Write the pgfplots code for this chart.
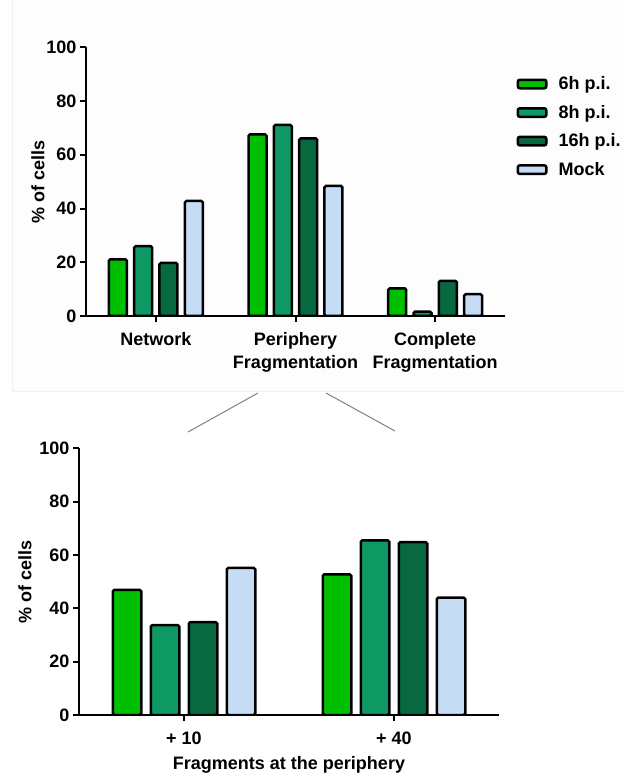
\documentclass[border=0pt]{standalone}
\usepackage{fontspec}
\setmainfont{Liberation Sans}
\usepackage{pgfplots}
\pgfplotsset{compat=1.18}
\definecolor{cA}{RGB}{0,190,0}
\definecolor{cB}{RGB}{14,152,100}
\definecolor{cC}{RGB}{8,104,64}
\definecolor{cD}{RGB}{198,220,245}
\newcommand{\ff}{\bfseries\fontsize{18}{23}\selectfont}
\pgfplotsset{
  myleg/.style={legend image code/.code={\draw[fill=##1, draw=black, rounded corners=2pt, line width=2.5pt] (0pt,-4.25pt) rectangle (28.5pt,4.25pt);}},
  myaxis/.style={
    scale only axis,
    axis lines=left,
    axis line style={line width=2pt,-},
    ymin=0, ymax=100, ytick={0,20,...,100},
    tick style={line width=2pt,black},
    tick align=outside,
    major tick length=6pt,
    /pgf/number format/assume math mode=true,
    tick label style={font=\ff},
    xticklabel style={yshift=-7pt},
    xtick=data,
    every axis plot/.append style={draw=black, line width=2.5pt, rounded corners=1.5pt},
  }
}
\begin{document}
\begin{tikzpicture}[x=1pt,y=1pt]
\useasboundingbox (0,0) rectangle (624,776);
\fill[black!0.7] (12,385) rectangle (624,776);
\draw[black!6, line width=0.6pt] (12,385) -- (624,385);
\draw[black!6, line width=0.6pt] (12,385) -- (12,776);
\draw[gray, line width=1pt] (188,344) -- (258,383);
\draw[gray, line width=1pt] (326,383) -- (395,345);

\begin{axis}[myaxis,
  at={(86pt,460pt)}, anchor=south west,
  width=419pt, height=268.7pt,
  ybar=7.3pt, bar width=18pt,
  xmin=-0.5, xmax=2.5,
  xticklabels={Network,{Periphery\\Fragmentation},{Complete\\Fragmentation}},
  xticklabel style={align=center},
  ylabel={\% of cells},
  every axis y label/.style={at={(axis description cs:-0.1146,0.5)}, rotate=90, anchor=center, font=\ff},
  legend style={at={(1.02,0.704)}, anchor=west, draw=none, fill=none, font=\ff, row sep=10pt, column sep=9pt, legend cell align=left},
]
\addplot[fill=cA, myleg={cA}] coordinates {(0,21.1) (1,67.6) (2,10.3)};
\addplot[fill=cB, myleg={cB}] coordinates {(0,26) (1,71.1) (2,1.6)};
\addplot[fill=cC, myleg={cC}] coordinates {(0,19.8) (1,66.1) (2,13.1)};
\addplot[fill=cD, myleg={cD}] coordinates {(0,42.8) (1,48.4) (2,8.1)};
\legend{6h p.i.,8h p.i.,16h p.i.,Mock}
\end{axis}

\begin{axis}[myaxis,
  at={(79pt,61pt)}, anchor=south west,
  width=420pt, height=266.7pt,
  ybar=9.5pt, bar width=28.5pt,
  xmin=-0.5, xmax=1.5,
  xticklabels={+ 10,+ 40},
  xlabel={Fragments at the periphery},
  every axis x label/.style={at={(axis description cs:0.5,-0.1875)}, anchor=center, font=\ff},
  ylabel={\% of cells},
  every axis y label/.style={at={(axis description cs:-0.1286,0.5)}, rotate=90, anchor=center, font=\ff},
]
\addplot[fill=cA] coordinates {(0,46.9) (1,52.7)};
\addplot[fill=cB] coordinates {(0,33.7) (1,65.5)};
\addplot[fill=cC] coordinates {(0,34.8) (1,64.8)};
\addplot[fill=cD] coordinates {(0,55.2) (1,44)};
\end{axis}
\end{tikzpicture}
\end{document}
